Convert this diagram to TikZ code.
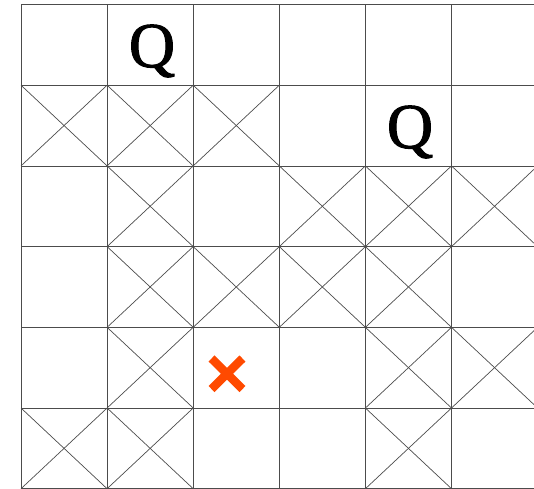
\documentclass[tikz,border=0pt]{standalone}
\usepackage{fontspec}
\setmainfont{Liberation Serif}
\newfontfamily\queenfont[FakeBold=1.6]{Liberation Serif}
\definecolor{markorange}{HTML}{FF4A00}
\tikzset{
  gridline/.style={draw=black!70, line width=0.7pt},
  queen/.style={font=\queenfont\fontsize{64}{64}\selectfont, inner sep=0pt, anchor=center},
  wrongmark/.style={draw=markorange, line width=8.5pt, line cap=butt}
}
\begin{document}
\begin{tikzpicture}[x=1pt,y=-1pt]
\useasboundingbox (0,0) rectangle (534,488);
\clip (0,0) rectangle (534,488);
\def\cw{86.1}
\def\ch{80.7}
\def\xo{21}
\def\yo{4.5}
% grid lines
\foreach \i in {0,...,6} {
  \draw[gridline] (\xo+\i*\cw, \yo) -- (\xo+\i*\cw, 500);
  \draw[gridline] (\xo, \yo+\i*\ch) -- (560, \yo+\i*\ch);
}
% crossed (attacked) cells: row/column
\foreach \r/\c in {1/0,1/1,1/2,2/1,2/3,2/4,2/5,3/1,3/2,3/3,3/4,4/1,4/4,4/5,5/0,5/1,5/4} {
  \draw[gridline] (\xo+\c*\cw, \yo+\r*\ch) -- (\xo+\c*\cw+\cw, \yo+\r*\ch+\ch);
  \draw[gridline] (\xo+\c*\cw, \yo+\r*\ch+\ch) -- (\xo+\c*\cw+\cw, \yo+\r*\ch);
}
% queens
\node[queen] (q1) at (152,51) {Q};
\node[queen] (q2) at (410,132) {Q};
% orange cross mark
\draw[wrongmark] (211.5,358.5) -- (242.5,389);
\draw[wrongmark] (211.5,389) -- (242.5,358.5);
\end{tikzpicture}
\end{document}
